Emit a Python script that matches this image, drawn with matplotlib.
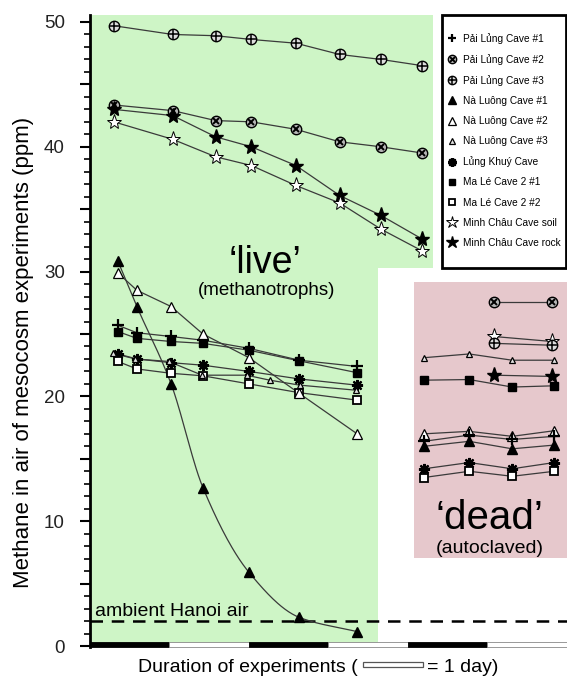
import numpy as np
import matplotlib as mpl
import matplotlib.pyplot as plt
from matplotlib.patches import Polygon, Rectangle
from matplotlib.legend_handler import HandlerTuple
from matplotlib.ticker import MultipleLocator, FuncFormatter

plt.rcParams["font.family"] = ["Liberation Sans", "DejaVu Sans"]

# ── data (days, ppm) ──────────────────────────────────────────────────────────
# live mesocosms, upper group
LIVE_X_A       = [0.30, 1.04, 1.58, 2.03, 2.59, 3.14, 3.66, 4.18]
pai_lung_3     = [49.7, 49.0, 48.9, 48.6, 48.3, 47.4, 47.0, 46.5]
pai_lung_2     = [43.35, 42.9, 42.1, 42.0, 41.4, 40.4, 40.0, 39.5]
minh_chau_rock = [43.0, 42.5, 40.8, 40.0, 38.5, 36.1, 34.5, 32.6]
minh_chau_soil = [42.0, 40.6, 39.2, 38.5, 36.9, 35.5, 33.4, 31.65]

# live mesocosms, lower group
LIVE_X_B   = [0.35, 0.59, 1.02, 1.42, 2.00, 2.63, 3.36]
pai_lung_1 = [25.7, 25.1, 24.8, 24.5, 23.85, 22.9, 22.4]
ma_le_1    = [25.2, 24.65, 24.4, 24.25, 23.7, 22.85, 21.9]
lung_khuy  = [23.4, 23.0, 22.7, 22.5, 22.0, 21.4, 20.9]
ma_le_2    = [22.8, 22.2, 21.85, 21.65, 21.0, 20.3, 19.7]
na_luong_1 = [30.85, 27.2, 21.0, 12.7, 5.9, 2.3, 1.15]
na_luong_2 = [29.9, 28.5, 27.2, 25.0, 23.1, 20.25, 17.0]
LIVE_X_C   = [0.29, 0.57, 0.99, 1.41, 1.97, 2.26, 2.64, 3.34]
na_luong_3 = [23.45, 23.0, 22.8, 21.7, 21.7, 21.3, 20.9, 20.5]

# autoclaved mesocosms
DEAD_X           = [4.20, 4.77, 5.31, 5.84]
d_na_luong_3     = [23.1, 23.4, 22.9, 22.9]
d_ma_le_1        = [21.3, 21.35, 20.75, 20.85]
d_na_luong_2     = [17.0, 17.2, 16.8, 17.25]
d_pai_lung_1     = [16.4, 16.9, 16.55, 16.8]
d_na_luong_1     = [16.0, 16.4, 15.8, 16.1]
d_lung_khuy      = [14.2, 14.7, 14.2, 14.7]
d_ma_le_2        = [13.5, 14.0, 13.6, 14.0]
DEAD_X2          = [5.08, 5.81]
d_pai_lung_2     = [27.6, 27.6]
d_minh_chau_soil = [24.8, 24.4]
d_pai_lung_3     = [24.25, 24.1]
d_minh_chau_rock = [21.7, 21.6]

AMBIENT = 2.0
N_DAYS = 6

LABELS = ["Pải Lủng Cave #1", "Pải Lủng Cave #2", "Pải Lủng Cave #3",
          "Nà Luông Cave #1", "Nà Luông Cave #2", "Nà Luông Cave #3",
          "Lủng Khuý Cave", "Ma Lé Cave 2 #1", "Ma Lé Cave 2 #2",
          "Minh Châu Cave soil", "Minh Châu Cave rock"]

# ── marker styles ─────────────────────────────────────────────────────────────
K = "black"
STYLES = {
    "pl1": [dict(marker="+", ms=8, mew=1.6, color=K)],
    "pl2": [dict(marker="o", ms=7.5, mfc="#b5b5b5", mec=K, mew=1.0),
            dict(marker="x", ms=4.5, mew=1.4, color=K)],
    "pl3": [dict(marker="o", ms=7.5, mfc="#dcdcdc", mec=K, mew=1.0),
            dict(marker="+", ms=7.5, mew=1.1, color=K)],
    "nl1": [dict(marker="^", ms=7, mfc=K, mec=K)],
    "nl2": [dict(marker="^", ms=7, mfc="white", mec=K, mew=0.9)],
    "nl3": [dict(marker="^", ms=5, mfc="#e2e2e2", mec=K, mew=0.9)],
    "lk":  [dict(marker=(8, 2, 0), ms=8, mew=1.6, color=K)],
    "ml1": [dict(marker="s", ms=6, mfc=K, mec=K)],
    "ml2": [dict(marker="s", ms=5.5, mfc="white", mec=K, mew=1.3)],
    "mcs": [dict(marker="*", ms=11, mfc="white", mec=K, mew=0.7)],
    "mcr": [dict(marker="*", ms=11, mfc=K, mec=K)],
}
ORDER = ["pl1", "pl2", "pl3", "nl1", "nl2", "nl3", "lk", "ml1", "ml2", "mcs", "mcr"]

LINE_KW = dict(color="#3a3a3a", lw=0.9, zorder=3)


def pchip(x, y, n=200):
    """Monotone cubic curve through the points (only used for the line)."""
    x = np.asarray(x, float); y = np.asarray(y, float)
    h = np.diff(x); d = np.diff(y) / h
    m = np.zeros_like(y)
    m[0], m[-1] = d[0], d[-1]
    for k in range(1, len(x) - 1):
        if d[k - 1] * d[k] > 0:
            w1 = 2 * h[k] + h[k - 1]; w2 = h[k] + 2 * h[k - 1]
            m[k] = (w1 + w2) / (w1 / d[k - 1] + w2 / d[k])
    xs = np.linspace(x[0], x[-1], n)
    i = np.clip(np.searchsorted(x, xs) - 1, 0, len(h) - 1)
    t = (xs - x[i]) / h[i]
    ys = ((2 * t**3 - 3 * t**2 + 1) * y[i] + (t**3 - 2 * t**2 + t) * h[i] * m[i]
          + (-2 * t**3 + 3 * t**2) * y[i + 1] + (t**3 - t**2) * h[i] * m[i + 1])
    return xs, ys


def draw(ax, x, y, key, smooth=False):
    if smooth:
        ax.plot(*pchip(x, y), **LINE_KW)
    else:
        ax.plot(x, y, **LINE_KW)
    hs = []
    for st in STYLES[key]:
        (h,) = ax.plot(x, y, ls="none", zorder=5, **st)
        hs.append(h)
    return tuple(hs)


# ── figure ────────────────────────────────────────────────────────────────────
fig = plt.figure(figsize=(5.67, 6.78), dpi=100)
ax = fig.add_axes([0.15873, 0.04572, 0.84127, 0.93289])
ax.set_xlim(0, N_DAYS)
ax.set_ylim(-0.08, 50.6)

# background zones
live_zone = Polygon([(0, 0), (3.62, 0), (3.62, 30.3), (4.31, 30.3),
                     (4.31, 50.6), (0, 50.6)],
                    closed=True, fc="#cef5c6", ec="none", zorder=0)
ax.add_patch(live_zone)
ax.add_patch(Rectangle((4.08, 7.05), N_DAYS - 4.08, 29.2 - 7.05,
                       fc="#e6c8cc", ec="none", zorder=0))

# ambient line
ax.axhline(AMBIENT, color=K, lw=1.8, ls=(0, (5, 3.5)), zorder=2)
ax.text(0.06, AMBIENT + 0.42, "ambient Hanoi air", fontsize=14, va="baseline", ha="left")

handles = {}
handles["pl3"] = draw(ax, LIVE_X_A, pai_lung_3, "pl3")
handles["pl2"] = draw(ax, LIVE_X_A, pai_lung_2, "pl2")
handles["mcr"] = draw(ax, LIVE_X_A, minh_chau_rock, "mcr")
handles["mcs"] = draw(ax, LIVE_X_A, minh_chau_soil, "mcs")
handles["pl1"] = draw(ax, LIVE_X_B, pai_lung_1, "pl1")
handles["ml1"] = draw(ax, LIVE_X_B, ma_le_1, "ml1")
handles["lk"] = draw(ax, LIVE_X_B, lung_khuy, "lk")
handles["ml2"] = draw(ax, LIVE_X_B, ma_le_2, "ml2")
handles["nl1"] = draw(ax, LIVE_X_B, na_luong_1, "nl1", smooth=True)
handles["nl2"] = draw(ax, LIVE_X_B, na_luong_2, "nl2")
handles["nl3"] = draw(ax, LIVE_X_C, na_luong_3, "nl3")

draw(ax, DEAD_X, d_na_luong_3, "nl3")
draw(ax, DEAD_X, d_ma_le_1, "ml1")
draw(ax, DEAD_X, d_na_luong_2, "nl2")
draw(ax, DEAD_X, d_pai_lung_1, "pl1")
draw(ax, DEAD_X, d_na_luong_1, "nl1")
draw(ax, DEAD_X, d_lung_khuy, "lk")
draw(ax, DEAD_X, d_ma_le_2, "ml2")
draw(ax, DEAD_X2, d_pai_lung_2, "pl2")
draw(ax, DEAD_X2, d_minh_chau_soil, "mcs")
draw(ax, DEAD_X2, d_pai_lung_3, "pl3")
draw(ax, DEAD_X2, d_minh_chau_rock, "mcr")

# zone labels
ax.text(2.20, 29.9, "\u2018live\u2019", fontsize=27, ha="center", va="baseline")
ax.text(2.22, 28.45, "(methanotrophs)", fontsize=13.5, ha="center", va="center")
ax.text(5.03, 9.35, "\u2018dead\u2019", fontsize=29, ha="center", va="baseline")
ax.text(5.03, 7.85, "(autoclaved)", fontsize=14, ha="center", va="center")

# day bar along the x axis
for d in range(N_DAYS):
    fc = K if d % 2 == 0 else "white"
    ax.add_patch(Rectangle((d, -0.08), 1, 0.43, fc=fc, ec="#888888" if d % 2 else K,
                           lw=0.6, zorder=6, clip_on=False))

# axes styling
for s in ("top", "right", "bottom"):
    ax.spines[s].set_visible(False)
ax.spines["left"].set_linewidth(2.0)
ax.spines["left"].set_zorder(7)
ax.set_xticks([])
ax.yaxis.set_major_locator(MultipleLocator(5))
ax.yaxis.set_minor_locator(MultipleLocator(1))
ax.yaxis.set_major_formatter(FuncFormatter(lambda v, p: f"{v:.0f}" if v % 10 == 0 else ""))
ax.tick_params(axis="y", which="major", length=7, width=1.5, labelsize=13.5,
               labelcolor="#222222", pad=11)
ax.tick_params(axis="y", which="minor", length=4, width=1.2)
ax.set_ylabel("Methane in air of mesocosm experiments (ppm)", fontsize=16)
ax.yaxis.set_label_coords(-0.118, 0.466)

# legend: separate frame box, legend itself frameless inside it
ax.add_patch(Rectangle((442 / 567, 1 - 268 / 678), 124 / 567, 253 / 678,
                       transform=fig.transFigure, fc="white", ec=K, lw=2.0,
                       zorder=9, clip_on=False))
leg = ax.legend([handles[k] for k in ORDER], LABELS,
                handler_map={tuple: HandlerTuple(ndivide=1, pad=0)},
                loc="upper left", bbox_to_anchor=(446 / 567, 1 - 33 / 678),
                bbox_transform=fig.transFigure,
                prop={"size": 7.3}, markerscale=0.8,
                handlelength=1.2, handletextpad=0.45, labelspacing=1.0,
                borderpad=0, borderaxespad=0, frameon=False)
leg.set_zorder(10)

# x label with the 1-day key box
fy = (678 - 672) / 678
fig.text(358 / 567, fy, "Duration of experiments (", fontsize=14, ha="right", va="baseline")
fig.patches.append(Rectangle((363 / 567, (678 - 667) / 678), 60 / 567, 5 / 678,
                             transform=fig.transFigure, fc="white", ec="#555555", lw=0.9))
fig.text(427 / 567, fy, "= 1 day)", fontsize=14, ha="left", va="baseline")

fig.savefig("out.png", dpi=100)
